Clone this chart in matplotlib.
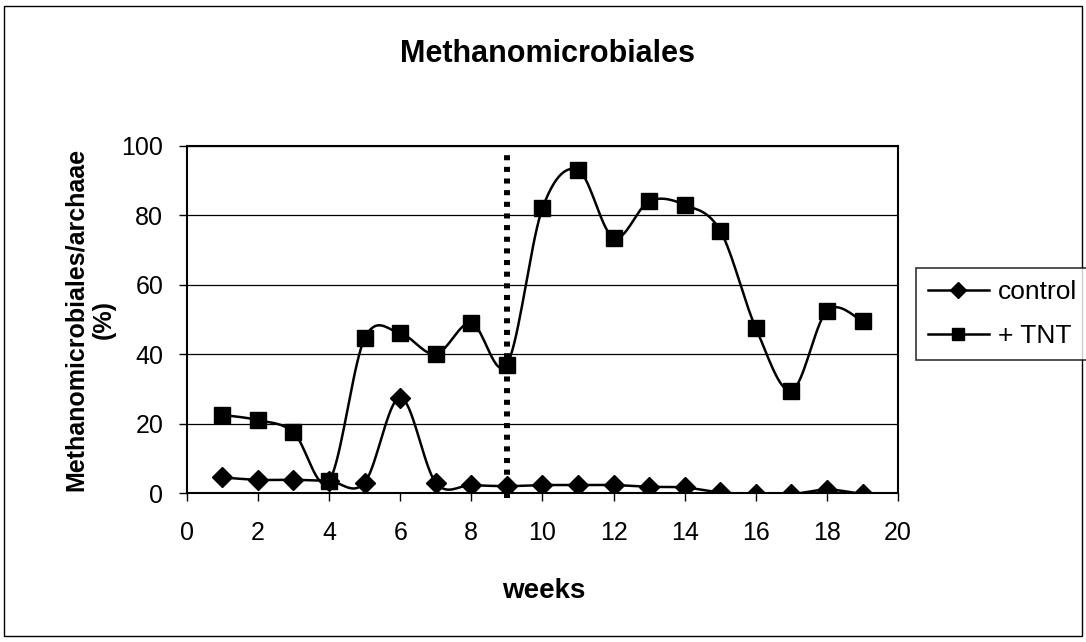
import numpy as np
import matplotlib.pyplot as plt
from matplotlib.patches import Rectangle

weeks = [1, 2, 3, 4, 5, 6, 7, 8, 9, 10, 11, 12, 13, 14, 15, 16, 17, 18, 19]
control = [4.5, 3.8, 3.8, 3.5, 3.0, 27.5, 3.0, 2.3, 2.0, 2.3, 2.3, 2.3, 1.8, 1.6, 0.2, -0.3, -0.3, 1.0, -0.3]
tnt = [22.5, 21.0, 17.5, 3.5, 44.5, 46.0, 40.0, 49.0, 37.0, 82.0, 93.0, 73.5, 84.0, 83.0, 75.5, 47.5, 29.5, 52.5, 49.5]


def smooth(x, y, n=20):
    # Catmull-Rom style smoothing, like Excel's "smoothed line"
    x = np.asarray(x, float)
    y = np.asarray(y, float)
    px = np.concatenate([[x[0]], x, [x[-1]]])
    py = np.concatenate([[y[0]], y, [y[-1]]])
    xs, ys = [], []
    t = np.linspace(0, 1, n)
    for i in range(1, len(px) - 2):
        p0 = np.array([px[i], py[i]])
        p3 = np.array([px[i + 1], py[i + 1]])
        p1 = p0 + (np.array([px[i + 1], py[i + 1]]) - np.array([px[i - 1], py[i - 1]])) / 6
        p2 = p3 - (np.array([px[i + 2], py[i + 2]]) - np.array([px[i], py[i]])) / 6
        b = ((1 - t) ** 3)[:, None] * p0 + (3 * (1 - t) ** 2 * t)[:, None] * p1 \
            + (3 * (1 - t) * t ** 2)[:, None] * p2 + (t ** 3)[:, None] * p3
        xs.extend(b[:, 0])
        ys.extend(b[:, 1])
    return xs, ys


plt.rcParams['font.family'] = ['Liberation Sans', 'DejaVu Sans']

fig = plt.figure(figsize=(10.86, 6.42), dpi=100)
ax = fig.add_axes([0.172, 0.232, 0.655, 0.541])

for y in [20, 40, 60, 80, 100]:
    ax.axhline(y, color='black', lw=0.9, zorder=0)

sx, sy = smooth(weeks, control)
ax.plot(sx, sy, color='black', lw=1.8, zorder=2)
ax.plot(weeks, control, ls='none', marker='D', ms=10, color='black', zorder=3)
sx, sy = smooth(weeks, tnt)
ax.plot(sx, sy, color='black', lw=1.8, zorder=2)
ax.plot(weeks, tnt, ls='none', marker='s', ms=11, color='black', zorder=3)

# proxies for the legend
ax.plot([], [], color='black', lw=1.8, marker='D', ms=8, label='control')
ax.plot([], [], color='black', lw=1.8, marker='s', ms=9, label='+ TNT')

ax.plot([9, 9], [-1.5, 98.5], color='black', lw=4.3, ls=(0, (0.85, 1.1)),
        solid_capstyle='butt', dash_capstyle='butt', zorder=1, clip_on=False)

ax.set_xlim(0, 20)
ax.set_ylim(0, 100)
ax.set_xticks(range(0, 21, 2))
ax.set_yticks(range(0, 101, 20))
ax.tick_params(labelsize=18, direction='out', length=6, width=1)
ax.tick_params(axis='x', pad=14)
ax.tick_params(axis='y', pad=11)
for s in ax.spines.values():
    s.set_linewidth(1.5)

fig.text(548 / 1086, 0.903, 'Methanomicrobiales', fontsize=22, fontweight='bold',
         ha='center', va='baseline')
ax.set_xlabel('weeks', fontsize=20, fontweight='bold')
ax.xaxis.set_label_coords(0.502, -0.303)
ax.xaxis.label.set_va('baseline')
ax.set_ylabel('Methanomicrobiales/archaae\n(%)', fontsize=18, fontweight='bold')
ax.yaxis.set_label_coords(-0.136, 0.5)
ax.yaxis.label.set_va('center')

h, l = ax.get_legend_handles_labels()
leg = fig.legend(h[-2:], l[-2:], loc='upper left', bbox_to_anchor=(0.8435, 0.5826),
                 borderaxespad=0, fontsize=19, frameon=True, fancybox=False,
                 edgecolor='black', handlelength=2.3, handletextpad=0.34,
                 borderpad=0.45, labelspacing=0.78)
leg.get_frame().set_linewidth(1.2)

fig.patches.append(Rectangle((0.004, 0.01), 0.992, 0.98, transform=fig.transFigure,
                             fill=False, edgecolor='black', lw=1))

fig.savefig('out.png', dpi=100)
